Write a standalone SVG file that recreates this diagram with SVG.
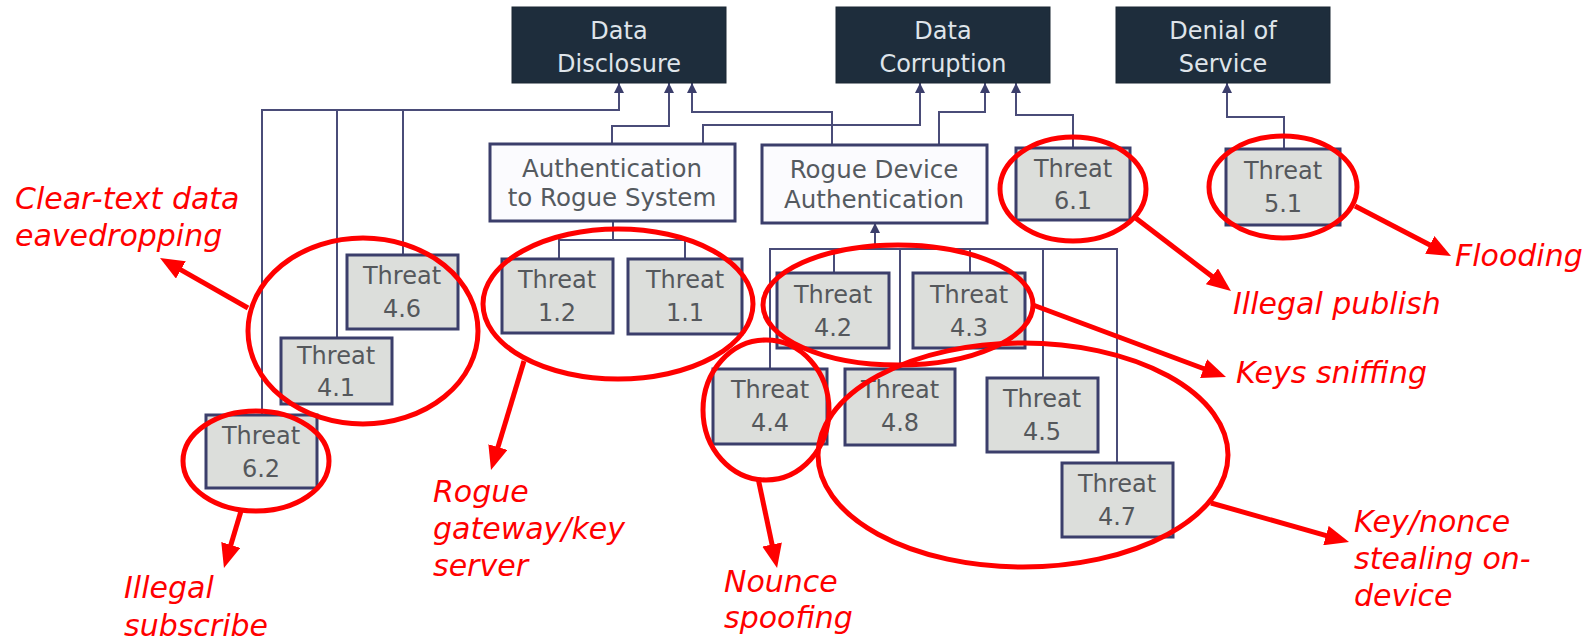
<svg xmlns="http://www.w3.org/2000/svg" width="1595" height="642" viewBox="0 0 1595 642">
<defs>
<style>
.top rect{fill:#1e2d3c;stroke:#1a2633;stroke-width:1}
.top text{fill:#dfe4ea;font-family:"DejaVu Sans",sans-serif;font-size:24px;text-anchor:middle}
.mid rect{fill:#fbfbfe;stroke:#3b3e6b;stroke-width:3}
.mid text{fill:#555a60;font-family:"DejaVu Sans",sans-serif;font-size:24.5px;text-anchor:middle}
.thr rect{fill:#dcdedb;stroke:#3b3e6b;stroke-width:3}
.thr text{fill:#55585c;font-family:"DejaVu Sans",sans-serif;font-size:24px;text-anchor:middle}
.con path{fill:none;stroke:#4a4c78;stroke-width:2}
.ring ellipse{fill:none;stroke:#ff0000;stroke-width:5}
.ann line{stroke:#ff0000;stroke-width:5;marker-end:url(#ra)}
.lab text{fill:#ff0000;font-family:"DejaVu Sans",sans-serif;font-style:italic;font-size:30px}
</style>
<marker id="da" markerUnits="userSpaceOnUse" markerWidth="10" markerHeight="10" refX="10" refY="5" orient="auto">
<path d="M0,0 L10,5 L0,10 z" fill="#3b3e6b"/>
</marker>
<marker id="ra" markerUnits="userSpaceOnUse" markerWidth="24" markerHeight="20" refX="4" refY="10" orient="auto">
<path d="M0,0 L24,10 L0,20 z" fill="#ff0000"/>
</marker>
</defs>
<rect width="1595" height="642" fill="#ffffff"/>

<g class="con" id="connectors">
<path d="M262,415 V110 H619 V83" marker-end="url(#da)"/>
<path d="M337,338 V110"/>
<path d="M403,255 V110"/>
<path d="M612,143 V126 H669 V83" marker-end="url(#da)"/>
<path d="M832,145 V112 H692 V83" marker-end="url(#da)"/>
<path d="M703,143 V125 H920 V83" marker-end="url(#da)"/>
<path d="M939,145 V112 H985 V83" marker-end="url(#da)"/>
<path d="M1073,148 V115 H1016 V83" marker-end="url(#da)"/>
<path d="M1284,149 V117 H1227 V83" marker-end="url(#da)"/>
<path d="M613,221 V240"/>
<path d="M559,259 V240 H685 V259"/>
<path d="M875,249 V223" marker-end="url(#da)"/>
<path d="M770,369 V249 H1117 V463"/>
<path d="M834,249 V273"/>
<path d="M900,249 V369"/>
<path d="M970,249 V273"/>
<path d="M1043,249 V378"/>
</g>

<g class="top" id="data-disclosure"><rect x="512" y="7" width="214" height="76"/><text x="619" y="39">Data</text><text x="619" y="72">Disclosure</text></g>
<g class="top" id="data-corruption"><rect x="836" y="7" width="214" height="76"/><text x="943" y="39">Data</text><text x="943" y="72">Corruption</text></g>
<g class="top" id="denial-of-service"><rect x="1116" y="7" width="214" height="76"/><text x="1223" y="39">Denial of</text><text x="1223" y="72">Service</text></g>

<g class="mid" id="auth-rogue-system"><rect x="490" y="144" width="245" height="77"/><text x="612" y="177">Authentication</text><text x="612" y="206">to Rogue System</text></g>
<g class="mid" id="rogue-device-auth"><rect x="762" y="145" width="225" height="78"/><text x="874" y="178">Rogue Device</text><text x="874" y="208">Authentication</text></g>

<g class="thr" id="threat-6-1"><rect x="1016" y="148" width="114" height="72"/><text x="1073" y="177">Threat</text><text x="1073" y="209">6.1</text></g>
<g class="thr" id="threat-5-1"><rect x="1226" y="149" width="114" height="76"/><text x="1283" y="179">Threat</text><text x="1283" y="212">5.1</text></g>
<g class="thr" id="threat-4-6"><rect x="347" y="255" width="111" height="74"/><text x="402" y="284">Threat</text><text x="402" y="317">4.6</text></g>
<g class="thr" id="threat-4-1"><rect x="281" y="338" width="111" height="66"/><text x="336" y="364">Threat</text><text x="336" y="396">4.1</text></g>
<g class="thr" id="threat-6-2"><rect x="206" y="415" width="111" height="73"/><text x="261" y="444">Threat</text><text x="261" y="477">6.2</text></g>
<g class="thr" id="threat-1-2"><rect x="502" y="259" width="111" height="74"/><text x="557" y="288">Threat</text><text x="557" y="321">1.2</text></g>
<g class="thr" id="threat-1-1"><rect x="628" y="259" width="114" height="75"/><text x="685" y="288">Threat</text><text x="685" y="321">1.1</text></g>
<g class="thr" id="threat-4-2"><rect x="777" y="273" width="112" height="75"/><text x="833" y="303">Threat</text><text x="833" y="336">4.2</text></g>
<g class="thr" id="threat-4-3"><rect x="913" y="273" width="112" height="75"/><text x="969" y="303">Threat</text><text x="969" y="336">4.3</text></g>
<g class="thr" id="threat-4-4"><rect x="713" y="369" width="114" height="75"/><text x="770" y="398">Threat</text><text x="770" y="431">4.4</text></g>
<g class="thr" id="threat-4-8"><rect x="845" y="369" width="110" height="76"/><text x="900" y="398">Threat</text><text x="900" y="431">4.8</text></g>
<g class="thr" id="threat-4-5"><rect x="987" y="378" width="111" height="74"/><text x="1042" y="407">Threat</text><text x="1042" y="440">4.5</text></g>
<g class="thr" id="threat-4-7"><rect x="1062" y="463" width="111" height="74"/><text x="1117" y="492">Threat</text><text x="1117" y="525">4.7</text></g>

<g class="ring" id="highlights">
<ellipse cx="363" cy="331" rx="115" ry="93"/>
<ellipse cx="256" cy="461" rx="73" ry="50"/>
<ellipse cx="618" cy="304" rx="135" ry="75"/>
<ellipse cx="898" cy="305" rx="135" ry="60"/>
<ellipse cx="766" cy="410" rx="63" ry="70"/>
<ellipse cx="1023" cy="455" rx="205" ry="112"/>
<ellipse cx="1073" cy="189" rx="73" ry="52"/>
<ellipse cx="1283" cy="187" rx="74" ry="51"/>
</g>

<g class="ann" id="annotation-arrows">
<line x1="248" y1="308" x2="177.4" y2="267.9"/>
<line x1="241" y1="511" x2="229.7" y2="548.8"/>
<line x1="524" y1="361" x2="496.8" y2="450.9"/>
<line x1="758" y1="478" x2="772.9" y2="548.4"/>
<line x1="1211" y1="503" x2="1329.8" y2="536.6"/>
<line x1="1033" y1="305" x2="1207.3" y2="370"/>
<line x1="1133" y1="216" x2="1215.1" y2="278.8"/>
<line x1="1355" y1="206" x2="1433.3" y2="246.8"/>
</g>

<g class="lab" id="annotation-labels">
<text x="15" y="209">Clear-text data</text>
<text x="15" y="246">eavedropping</text>
<text x="124" y="598">Illegal</text>
<text x="124" y="636">subscribe</text>
<text x="433" y="502">Rogue</text>
<text x="433" y="539">gateway/key</text>
<text x="433" y="576">server</text>
<text x="724" y="592">Nounce</text>
<text x="724" y="628">spoofing</text>
<text x="1354" y="532">Key/nonce</text>
<text x="1354" y="569">stealing on-</text>
<text x="1354" y="606">device</text>
<text x="1455" y="266">Flooding</text>
<text x="1233" y="314">Illegal publish</text>
<text x="1236" y="383">Keys sniffing</text>
</g>
</svg>
